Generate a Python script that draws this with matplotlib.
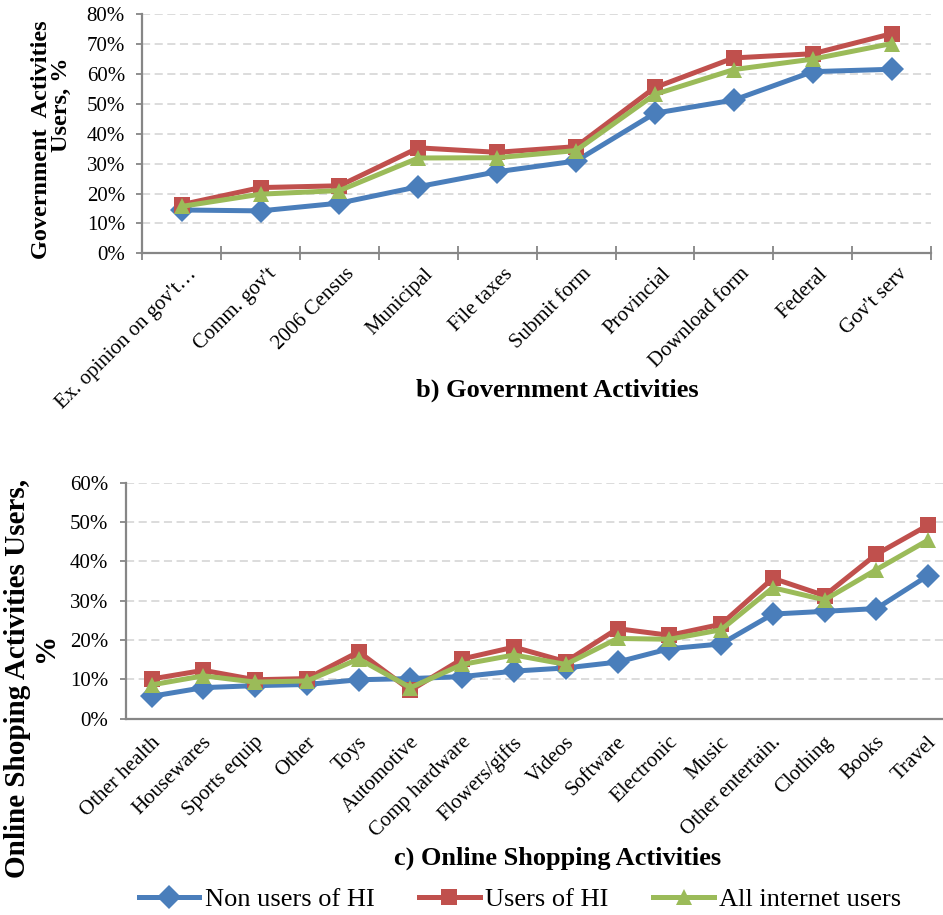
import matplotlib
matplotlib.use("Agg")
import matplotlib.pyplot as plt
from matplotlib.ticker import FuncFormatter, FixedLocator
from matplotlib.lines import Line2D

# ---- data -------------------------------------------------------------
gov_categories = ["Ex. opinion on gov't\u2026", "Comm. gov't", "2006 Census", "Municipal",
                  "File taxes", "Submit form", "Provincial", "Download form",
                  "Federal", "Gov't serv"]
gov_non_users = [14.5, 14.2, 16.8, 22.3, 27.3, 30.9, 46.9, 51.3, 60.8, 61.6]
gov_users = [16.3, 22.0, 22.6, 35.3, 33.8, 35.7, 55.5, 65.4, 66.8, 73.5]
gov_all = [15.7, 19.8, 21.0, 31.9, 32.0, 34.4, 53.2, 61.5, 65.0, 70.2]

shop_categories = ["Other health", "Housewares", "Sports equip", "Other", "Toys",
                   "Automotive", "Comp hardware", "Flowers/gifts", "Videos", "Software",
                   "Electronic", "Music", "Other entertain.", "Clothing", "Books", "Travel"]
shop_non_users = [5.7, 7.9, 8.4, 8.7, 9.9, 10.2, 10.7, 12.1, 12.9, 14.4,
                  17.8, 19.0, 26.6, 27.3, 28.0, 36.4]
shop_users = [10.1, 12.3, 9.9, 10.2, 17.0, 7.2, 15.2, 18.2, 14.5, 22.9,
              21.2, 24.0, 35.7, 31.3, 41.8, 49.2]
shop_all = [8.6, 10.9, 9.3, 9.6, 15.2, 7.9, 13.8, 16.2, 13.8, 20.4,
            20.2, 22.6, 33.3, 30.2, 37.9, 45.4]

series_names = ["Non users of HI", "Users of HI", "All internet users"]

# ---- style ------------------------------------------------------------
plt.rcParams["font.family"] = ["Liberation Serif", "DejaVu Serif"]
BLUE, RED, GREEN = "#4a7ebb", "#c0504d", "#9bbb59"
SPINE = "#868686"
GRID = "#d9d9d9"
styles = [
    dict(color=BLUE, marker="D", markersize=12),
    dict(color=RED, marker="s", markersize=11),
    dict(color=GREEN, marker="^", markersize=12),
]
LW = 3.6
TICK_FS = 15

W, H = 943, 915
fig = plt.figure(figsize=(W / 100, H / 100), dpi=100)
pct = FuncFormatter(lambda v, _: f"{v:.0f}%")


def style_axes(ax, ymax):
    ax.set_ylim(0, ymax)
    ax.set_yticks(range(0, ymax + 1, 10))
    ax.yaxis.set_major_formatter(pct)
    ax.grid(axis="y", color=GRID, linestyle=(0, (4.5, 2.5)), linewidth=1.3)
    ax.set_axisbelow(True)
    for side in ("top", "right"):
        ax.spines[side].set_visible(False)
    for side in ("left", "bottom"):
        ax.spines[side].set_color(SPINE)
        ax.spines[side].set_linewidth(1.6)
    ax.tick_params(axis="y", direction="out", length=4.5, width=1.3, color=SPINE,
                   labelsize=TICK_FS, pad=8)


def draw_series(ax, series):
    x = range(len(series[0]))
    for vals, st in zip(series, styles):
        ax.plot(x, vals, linewidth=LW, markeredgewidth=0, solid_joinstyle="round",
                clip_on=False, zorder=3, **st)


def vtext(px, py, s, size):
    fig.text(px / W, 1 - py / H, s, rotation=90, ha="center", va="center",
             fontsize=size, fontweight="bold")


# ---- b) Government activities ----------------------------------------
ax1 = fig.add_axes([142.3 / W, 1 - 253.3 / H, (931 - 142.3) / W, (253.3 - 14.3) / H])
draw_series(ax1, [gov_non_users, gov_users, gov_all])
style_axes(ax1, 80)
n1 = len(gov_categories)
ax1.set_xlim(-0.5, n1 - 0.5)
ax1.xaxis.set_major_locator(FixedLocator([i - 0.5 for i in range(n1 + 1)]))
ax1.xaxis.set_ticklabels([])
ax1.tick_params(axis="x", direction="inout", length=9.5, width=1.3, color=SPINE)
for i, lab in enumerate(gov_categories):
    ax1.annotate(lab, xy=(i, 0), xycoords=("data", "axes fraction"),
                 xytext=(9, -13), textcoords="offset points",
                 rotation=45, rotation_mode="anchor", ha="right", va="center",
                 fontsize=TICK_FS)
vtext(42, 140, "Government  Activities", 17.5)
vtext(61, 105, "Users, %", 17.5)
fig.text(557.5 / W, 1 - 390 / H, "b) Government Activities", fontsize=19,
         fontweight="bold", ha="center", va="center")

# ---- c) Online shopping activities -----------------------------------
ax2 = fig.add_axes([125.8 / W, 1 - 718.7 / H, (954 - 125.8) / W, (718.7 - 482.7) / H])
draw_series(ax2, [shop_non_users, shop_users, shop_all])
style_axes(ax2, 60)
n2 = len(shop_categories)
ax2.set_xlim(-0.5, n2 - 0.5)
ax2.set_xticks([])
for i, lab in enumerate(shop_categories):
    ax2.annotate(lab, xy=(i, 0), xycoords=("data", "axes fraction"),
                 xytext=(4, -15), textcoords="offset points",
                 rotation=45, rotation_mode="anchor", ha="right", va="center",
                 fontsize=TICK_FS)
vtext(18, 678, "Online Shoping Activities Users,", 21)
vtext(45, 647, "%", 21)
fig.text(558 / W, 1 - 858 / H, "c) Online Shopping Activities", fontsize=19,
         fontweight="bold", ha="center", va="center")

# ---- legend -----------------------------------------------------------
handles = [Line2D([], [], linewidth=LW, markeredgewidth=0, **st) for st in styles]
fig.legend(handles, series_names, loc="center", bbox_to_anchor=(520 / W, 1 - 899 / H),
           ncol=3, frameon=False, fontsize=19, handlelength=2.3, handletextpad=0.2,
           columnspacing=1.7, borderpad=0)

fig.savefig("out.png", dpi=100)
